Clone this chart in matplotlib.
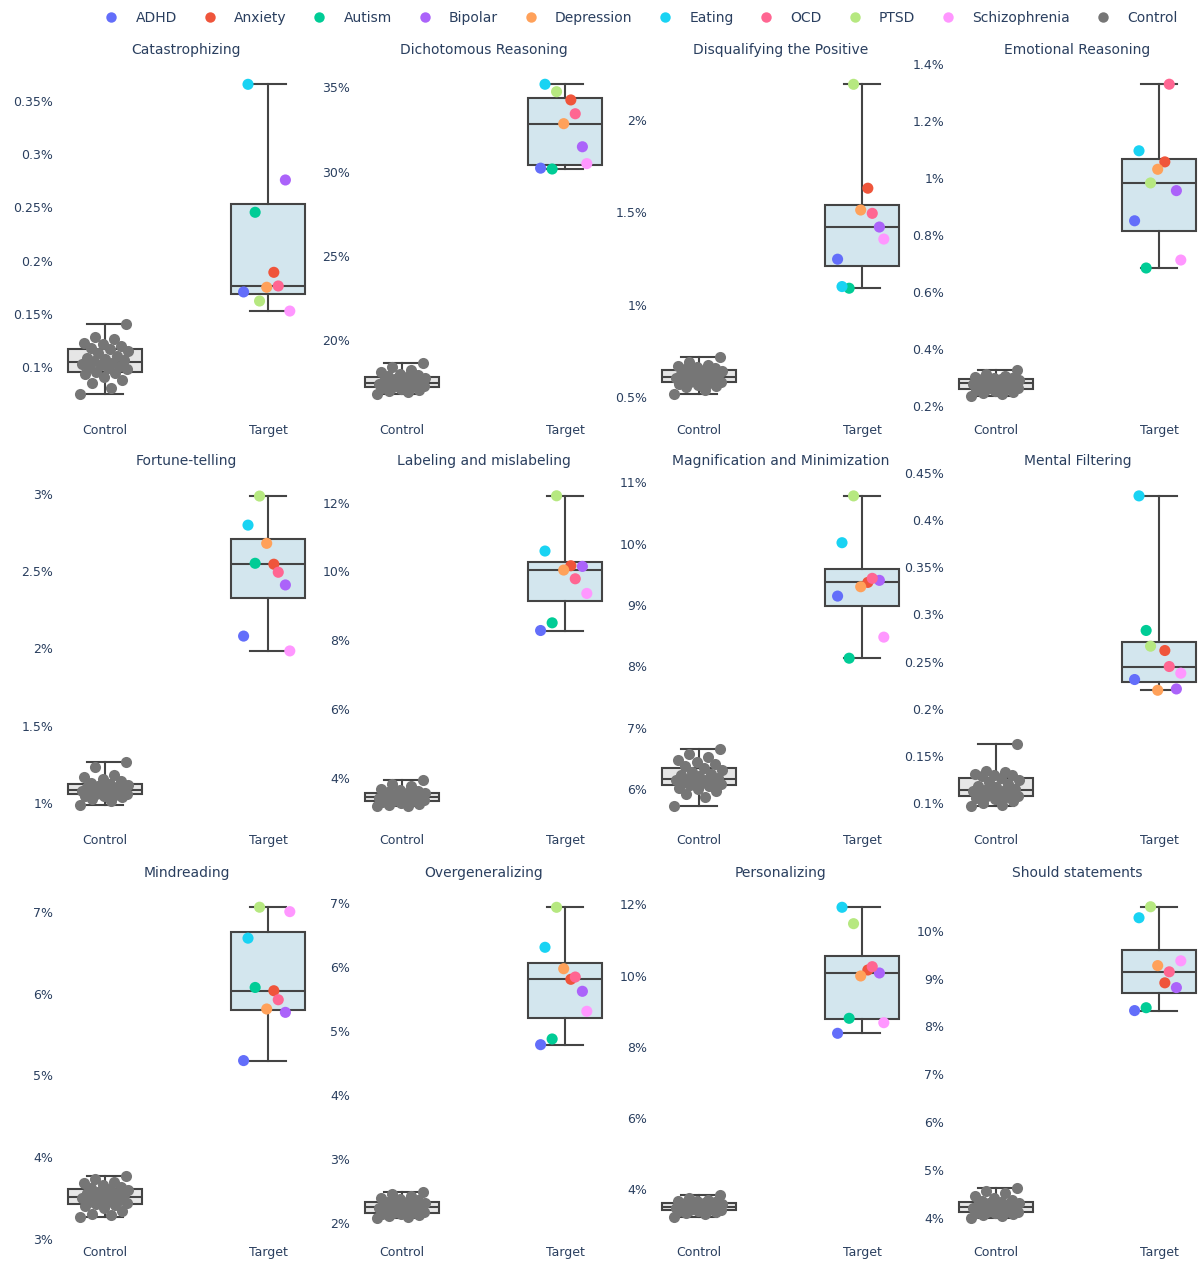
import numpy as np
import matplotlib.pyplot as plt
from matplotlib.lines import Line2D
from matplotlib.ticker import MultipleLocator, FuncFormatter

groups = ['ADHD', 'Anxiety', 'Autism', 'Bipolar', 'Depression', 'Eating', 'OCD', 'PTSD', 'Schizophrenia']
group_colors = ['#636EFA', '#EF553B', '#00CC96', '#AB63FA', '#FFA15A', '#19D3F3', '#FF6692', '#B6E880', '#FF97FF']
control_color = '#767676'

distortions = ['Catastrophizing', 'Dichotomous Reasoning', 'Disqualifying the Positive', 'Emotional Reasoning',
               'Fortune-telling', 'Labeling and mislabeling', 'Magnification and Minimization', 'Mental Filtering',
               'Mindreading', 'Overgeneralizing', 'Personalizing', 'Should statements']

# share of text (%) per target group, same order as `groups`
catastrophizing_target = [0.1707, 0.1891, 0.2454, 0.2757, 0.1751, 0.3654, 0.1763, 0.1622, 0.1528]
dichotomous_target = [30.20, 34.25, 30.15, 31.47, 32.84, 35.18, 33.43, 34.74, 30.47]
disqualifying_target = [1.247, 1.631, 1.090, 1.421, 1.513, 1.099, 1.495, 2.193, 1.356]
emotional_target = [0.850, 1.057, 0.684, 0.956, 1.031, 1.096, 1.330, 0.983, 0.712]
fortune_target = [2.079, 2.544, 2.550, 2.410, 2.679, 2.797, 2.492, 2.985, 1.983]
labeling_target = [8.282, 10.165, 8.505, 10.147, 10.04, 10.593, 9.786, 12.20, 9.36]
magnification_target = [9.146, 9.369, 8.135, 9.402, 9.298, 10.015, 9.435, 10.777, 8.478]
filtering_target = [0.2309, 0.2617, 0.283, 0.2209, 0.2195, 0.4259, 0.2447, 0.2663, 0.2376]
mindreading_target = [5.181, 6.034, 6.074, 5.770, 5.811, 6.676, 5.924, 7.054, 7.000]
overgeneralizing_target = [4.791, 5.8125, 4.88, 5.625, 5.978, 6.3125, 5.848, 6.9375, 5.3125]
personalizing_target = [8.379, 10.156, 8.80, 10.072, 9.988, 11.916, 10.249, 11.456, 8.677]
should_target = [8.33, 8.91, 8.39, 8.81, 9.27, 10.27, 9.14, 10.50, 9.37]

# control users (%)
catastrophizing_control = [0.075, 0.081, 0.085, 0.088, 0.091, 0.094, 0.095, 0.096, 0.098, 0.099, 0.100, 0.101, 0.102, 0.103, 0.104,
                           0.106, 0.107, 0.108, 0.109, 0.111, 0.113, 0.115, 0.117, 0.118, 0.120, 0.122, 0.123, 0.127, 0.128, 0.141]
dichotomous_control = [16.80, 16.92, 17.00, 17.06, 17.11, 17.15, 17.19, 17.23, 17.26, 17.29, 17.32, 17.35, 17.38, 17.40, 17.42,
                       17.44, 17.47, 17.51, 17.55, 17.60, 17.66, 17.72, 17.79, 17.86, 17.93, 18.00, 18.10, 18.22, 18.40, 18.66]
disqualifying_control = [0.516, 0.540, 0.555, 0.563, 0.569, 0.574, 0.578, 0.581, 0.585, 0.589, 0.593, 0.597, 0.601, 0.606, 0.610,
                         0.614, 0.618, 0.622, 0.626, 0.631, 0.636, 0.642, 0.648, 0.652, 0.657, 0.662, 0.668, 0.675, 0.690, 0.716]
emotional_control = [0.234, 0.240, 0.245, 0.249, 0.252, 0.255, 0.258, 0.260, 0.263, 0.266, 0.268, 0.270, 0.273, 0.275, 0.278,
                     0.280, 0.282, 0.283, 0.285, 0.287, 0.289, 0.291, 0.293, 0.295, 0.297, 0.299, 0.302, 0.306, 0.312, 0.326]
fortune_control = [0.985, 1.010, 1.025, 1.035, 1.042, 1.047, 1.051, 1.054, 1.058, 1.062, 1.066, 1.070, 1.074, 1.079, 1.084,
                   1.088, 1.092, 1.096, 1.100, 1.105, 1.110, 1.116, 1.123, 1.130, 1.140, 1.152, 1.165, 1.180, 1.235, 1.265]
labeling_control = [3.165, 3.19, 3.22, 3.25, 3.27, 3.29, 3.31, 3.32, 3.34, 3.36, 3.38, 3.39, 3.41, 3.42, 3.43,
                    3.44, 3.45, 3.47, 3.49, 3.51, 3.53, 3.55, 3.564, 3.58, 3.61, 3.64, 3.68, 3.75, 3.82, 3.923]
magnification_control = [5.727, 5.88, 5.93, 5.98, 6.01, 6.03, 6.05, 6.076, 6.09, 6.10, 6.11, 6.12, 6.13, 6.15, 6.16,
                         6.175, 6.19, 6.21, 6.23, 6.25, 6.28, 6.32, 6.353, 6.38, 6.41, 6.44, 6.48, 6.53, 6.58, 6.663]
filtering_control = [0.0964, 0.0975, 0.100, 0.102, 0.104, 0.105, 0.106, 0.1067, 0.1075, 0.108, 0.109, 0.110, 0.111, 0.112, 0.113,
                     0.1132, 0.115, 0.117, 0.118, 0.120, 0.122, 0.124, 0.1266, 0.128, 0.129, 0.130, 0.131, 0.133, 0.134, 0.162]
mindreading_control = [3.276, 3.29, 3.31, 3.35, 3.38, 3.40, 3.42, 3.43, 3.44, 3.45, 3.46, 3.48, 3.49, 3.50, 3.51,
                       3.53, 3.54, 3.55, 3.56, 3.57, 3.58, 3.595, 3.609, 3.62, 3.64, 3.66, 3.68, 3.70, 3.74, 3.771]
overgeneralizing_control = [2.08, 2.10, 2.12, 2.13, 2.14, 2.15, 2.16, 2.166, 2.18, 2.19, 2.20, 2.21, 2.22, 2.24, 2.25,
                            2.27, 2.28, 2.29, 2.30, 2.31, 2.315, 2.32, 2.328, 2.34, 2.36, 2.38, 2.40, 2.43, 2.46, 2.484]
personalizing_control = [3.215, 3.30, 3.34, 3.36, 3.38, 3.40, 3.41, 3.42, 3.43, 3.44, 3.46, 3.47, 3.48, 3.49, 3.50,
                         3.525, 3.54, 3.55, 3.56, 3.57, 3.58, 3.59, 3.608, 3.62, 3.64, 3.66, 3.68, 3.71, 3.76, 3.841]
should_control = [4.00, 4.03, 4.06, 4.08, 4.10, 4.11, 4.115, 4.12, 4.13, 4.15, 4.16, 4.18, 4.19, 4.20, 4.21,
                  4.23, 4.24, 4.25, 4.27, 4.28, 4.30, 4.31, 4.33, 4.35, 4.38, 4.42, 4.46, 4.51, 4.56, 4.62]

target_data = [catastrophizing_target, dichotomous_target, disqualifying_target, emotional_target,
               fortune_target, labeling_target, magnification_target, filtering_target,
               mindreading_target, overgeneralizing_target, personalizing_target, should_target]
control_data = [catastrophizing_control, dichotomous_control, disqualifying_control, emotional_control,
                fortune_control, labeling_control, magnification_control, filtering_control,
                mindreading_control, overgeneralizing_control, personalizing_control, should_control]

# layout per panel
tick_steps = [0.05, 5, 0.5, 0.2, 0.5, 2, 1, 0.05, 1, 1, 2, 1]
y_ranges = [(0.0525, 0.3882), (15.37, 36.62), (0.388, 2.3245), (0.1568, 1.4151),
            (0.834, 3.1439), (2.524, 12.906), (5.363, 11.174), (0.0727, 0.4518),
            (2.99, 7.346), (1.739, 7.3125), (2.578, 12.589), (3.536, 10.99)]

TEXT = '#2a3f5f'
EDGE = '#444444'
W, H = 1198, 1261
row_top = [60, 471.5, 883.3]
row_bot = [418, 828.5, 1240]


def jitter(n, spread=0.15):
    return ((np.arange(n) * 0.618034) % 1 - 0.5) * 2 * spread


def box_stats(vals):
    v = np.asarray(vals)
    q1, med, q3 = np.percentile(v, [25, 50, 75], method='hazen')
    return dict(med=med, q1=q1, q3=q3, whislo=v.min(), whishi=v.max(), fliers=[])


fig = plt.figure(figsize=(W / 100, H / 100), dpi=100)

for i, name in enumerate(distortions):
    r, c = divmod(i, 4)
    ax = fig.add_axes([(56 + 297 * c) / W, 1 - row_bot[r] / H, 261 / W, (row_bot[r] - row_top[r]) / H])
    ctrl = control_data[i]
    tgt = target_data[i]
    for pos, vals, fc in [(0, ctrl, '#e6e6e6'), (1, tgt, '#d3e6ee')]:
        ax.bxp([box_stats(vals)], positions=[pos], widths=0.45, patch_artist=True, showfliers=False,
               boxprops=dict(facecolor=fc, edgecolor=EDGE, linewidth=1.5),
               medianprops=dict(color=EDGE, linewidth=1.5),
               whiskerprops=dict(color=EDGE, linewidth=1.5),
               capprops=dict(color=EDGE, linewidth=1.5))
    ax.scatter(0 + jitter(len(ctrl)), ctrl, s=64, color=control_color, linewidths=0, zorder=3)
    ax.scatter(1 + jitter(len(tgt)), tgt, s=64, c=group_colors, linewidths=0, zorder=3)

    ax.set_xlim(-0.3, 1.3)
    ax.set_ylim(*y_ranges[i])
    ax.set_xticks([0, 1], ['Control', 'Target'])
    ax.yaxis.set_major_locator(MultipleLocator(tick_steps[i]))
    ax.yaxis.set_major_formatter(FuncFormatter(lambda v, p: f'{v:g}%'))
    ax.tick_params(length=0, labelsize=9, labelcolor=TEXT)
    ax.tick_params(axis='x', pad=4)
    ax.tick_params(axis='y', pad=2)
    for s in ax.spines.values():
        s.set_visible(False)
    ax.set_title(name, fontsize=10, color=TEXT, pad=4.5)

handles = [Line2D([], [], marker='o', linestyle='', markersize=7.5, markerfacecolor=col, markeredgewidth=0)
           for col in group_colors + [control_color]]
fig.legend(handles, groups + ['Control'], loc='center', bbox_to_anchor=(0.535, 1 - 18 / H), ncol=10,
           frameon=False, fontsize=10, labelcolor=TEXT, handlelength=1, handletextpad=1.25, columnspacing=1.85)

fig.savefig('out.png', dpi=100)
